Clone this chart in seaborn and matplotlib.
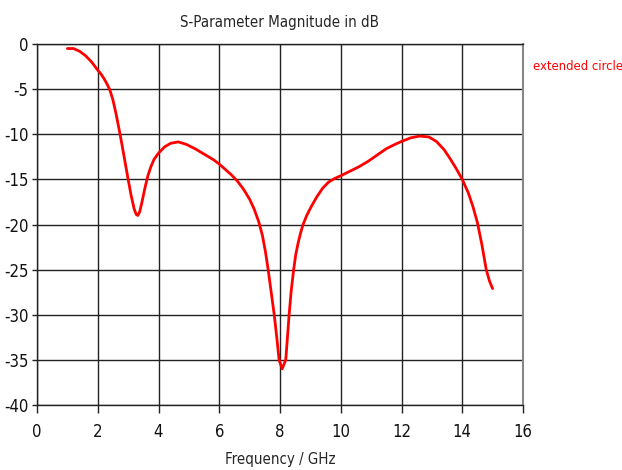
import matplotlib
matplotlib.use("Agg")
import matplotlib.pyplot as plt
import seaborn as sns
import pandas as pd
from matplotlib import font_manager

freq_ghz = [1.0, 1.2, 1.4, 1.6, 1.8, 2.0, 2.1, 2.2, 2.3, 2.4, 2.5, 2.6, 2.7, 2.8, 2.9, 3.0,
            3.1, 3.2, 3.27, 3.32, 3.38, 3.45, 3.55, 3.65, 3.75, 3.85, 4.0, 4.2, 4.4, 4.65,
            4.9, 5.2, 5.5, 5.8, 6.0, 6.2, 6.4, 6.6, 6.8, 7.0, 7.15, 7.3, 7.42, 7.52, 7.61,
            7.71, 7.81, 7.9, 7.97, 8.07, 8.19, 8.3, 8.37, 8.45, 8.52, 8.6, 8.68, 8.76, 8.88,
            9.0, 9.2, 9.4, 9.6, 9.8, 10.0, 10.3, 10.6, 10.9, 11.2, 11.5, 11.8, 12.0, 12.3,
            12.6, 12.9, 13.15, 13.4, 13.6, 13.8, 14.0, 14.2, 14.35, 14.5, 14.65, 14.79,
            14.9, 15.0]
s11_db = [-0.5, -0.5, -0.8, -1.3, -2.0, -2.9, -3.3, -3.8, -4.4, -5.1, -6.2, -7.7, -9.4,
          -11.2, -13.1, -15.0, -16.8, -18.3, -18.9, -19.0, -18.6, -17.6, -16.0, -14.6,
          -13.6, -12.8, -12.1, -11.4, -11.0, -10.85, -11.1, -11.6, -12.2, -12.8, -13.3,
          -13.9, -14.5, -15.2, -16.1, -17.2, -18.3, -19.7, -21.2, -23.0, -25.0, -27.5,
          -30.0, -32.7, -35.0, -36.0, -35.0, -30.0, -27.3, -25.0, -23.3, -22.0, -20.9,
          -20.0, -19.0, -18.2, -17.0, -16.0, -15.3, -14.9, -14.6, -14.1, -13.6, -13.0,
          -12.3, -11.6, -11.1, -10.8, -10.4, -10.2, -10.3, -10.8, -11.7, -12.7, -13.8,
          -15.0, -16.5, -18.0, -19.8, -22.3, -25.0, -26.3, -27.1]

x_ticks = [0, 2, 4, 6, 8, 10, 12, 14, 16]
y_ticks = [0, -5, -10, -15, -20, -25, -30, -35, -40]
series_name = "extended circle"

df = pd.DataFrame({"Frequency / GHz": freq_ghz, "dB": s11_db})

sns.set_style("white")
plt.rcParams['font.family'] = ['DejaVu Sans']
plt.rcParams['font.stretch'] = 'condensed'

fp = font_manager.FontProperties(family='DejaVu Sans', stretch='condensed')
condensed = 'Condensed' in font_manager.findfont(fp)
tick_fs = 12 if condensed else 10.5
text_fs = 10.8 if condensed else 9.2
legend_fs = 9.4 if condensed else 8.2

fig = plt.figure(figsize=(6.22, 4.70), dpi=100)
ax = fig.add_axes([37/622, 1 - 405/470, (523 - 37)/622, (405 - 44)/470])

sns.lineplot(data=df, x="Frequency / GHz", y="dB", color="#ff0000", linewidth=2,
             ax=ax, sort=False, legend=False)

ax.set_xlim(0, 16)
ax.set_ylim(-40, 0)
ax.set_xticks(x_ticks)
ax.set_yticks(y_ticks)
ax.set_xticklabels([str(t) for t in x_ticks], fontsize=tick_fs)
ax.set_yticklabels([str(t) for t in y_ticks], fontsize=tick_fs)
ax.grid(True, color="#222222", linewidth=1.0)
ax.set_axisbelow(True)
for s in ["top", "bottom", "left"]:
    ax.spines[s].set_visible(True)
    ax.spines[s].set_color("#222222")
    ax.spines[s].set_linewidth(1.0)
ax.spines["right"].set_visible(True)
ax.spines["right"].set_color("#888888")
ax.spines["right"].set_linewidth(1.5)
ax.tick_params(axis="x", direction="out", length=6, width=1, color="#222222",
               labelcolor="#111111", pad=7, bottom=True)
ax.tick_params(axis="y", direction="out", length=3.5, width=1, color="#222222",
               labelcolor="#111111", pad=2.5, left=True)
ax.set_xlabel("Frequency / GHz", fontsize=text_fs, labelpad=8)
ax.set_ylabel("")
ax.set_title("S-Parameter Magnitude in dB", fontsize=text_fs, pad=12)
fig.text(578/622, 1 - 66/470, series_name, color="#ff0000", fontsize=legend_fs,
         ha="center", va="center")

fig.savefig("out.png", dpi=100)
